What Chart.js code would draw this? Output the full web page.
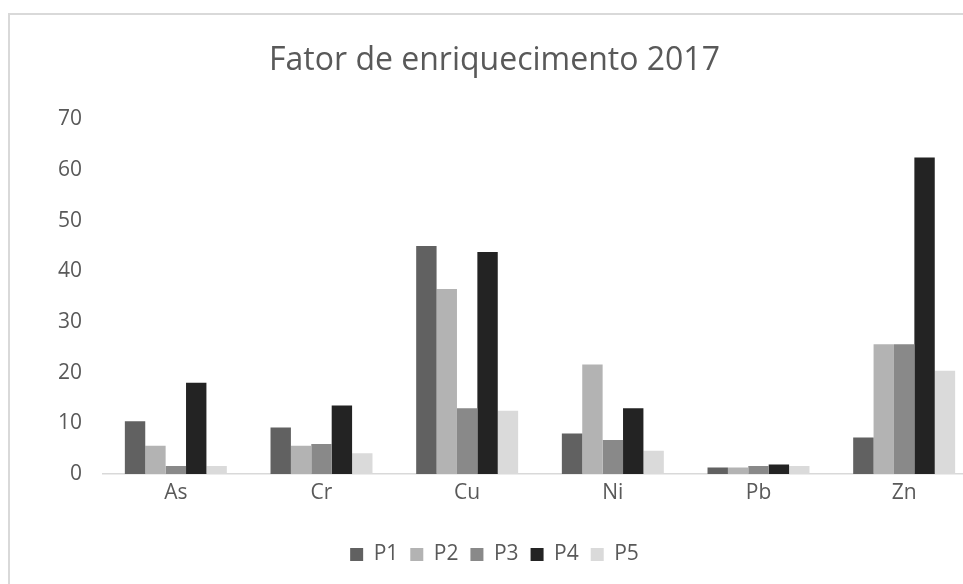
<!DOCTYPE html>
<html>
<head>
<meta charset="utf-8">
<script src="https://cdn.jsdelivr.net/npm/chart.js@4"></script>
<style>
  html, body { margin: 0; padding: 0; background: #fff; overflow: hidden; }
  #box { position: absolute; left: 8px; top: 13px; width: 980px; height: 600px;
         border: 2px solid #d9d9d9; box-sizing: border-box; }
  #wrap { position: absolute; left: 2px; top: 2px; width: 972px; height: 558px; }
</style>
</head>
<body>
<div id="box"><div id="wrap"><canvas id="chart"></canvas></div></div>
<script>
// Fator de enriquecimento 2017
const categories = ['As', 'Cr', 'Cu', 'Ni', 'Pb', 'Zn'];
const seriesNames = ['P1', 'P2', 'P3', 'P4', 'P5'];
const p1 = [10.4, 9.2, 45.0, 8.0, 1.3, 7.2];
const p2 = [5.6, 5.6, 36.5, 21.6, 1.3, 25.6];
const p3 = [1.6, 5.9, 13.0, 6.7, 1.6, 25.6];
const p4 = [18.0, 13.5, 43.8, 13.0, 1.9, 62.5];
const p5 = [1.6, 4.1, 12.5, 4.6, 1.6, 20.4];
const yTicks = [0, 10, 20, 30, 40, 50, 60, 70];

const colors = ['#616161', '#b3b3b3', '#898989', '#232323', '#dadada'];
const values = [p1, p2, p3, p4, p5];
const textColor = '#595959';
const fontFamily = '"Open Sans", sans-serif';

const ctx = document.getElementById('chart').getContext('2d');
new Chart(ctx, {
    type: 'bar',
    data: {
        labels: categories,
        datasets: seriesNames.map((name, i) => ({
            label: name,
            data: values[i],
            backgroundColor: colors[i],
            borderWidth: 0,
            barPercentage: 1,
            categoryPercentage: 0.70
        }))
    },
    options: {
        responsive: true,
        maintainAspectRatio: false,
        animation: false,
        layout: { padding: { left: 0, right: 7, top: 0, bottom: 0 } },
        plugins: {
            title: {
                display: true,
                text: 'Fator de enriquecimento 2017',
                color: textColor,
                font: { family: fontFamily, size: 32, weight: 'normal' },
                padding: { top: 25, bottom: 39 }
            },
            legend: {
                position: 'bottom',
                labels: {
                    color: textColor,
                    font: { family: fontFamily, size: 21 },
                    boxWidth: 13,
                    boxHeight: 13,
                    padding: 12
                }
            },
            tooltip: { enabled: false }
        },
        scales: {
            x: {
                grid: { display: false, drawTicks: false },
                border: { display: true, color: '#d9d9d9', width: 1.5 },
                ticks: {
                    color: textColor,
                    font: { family: fontFamily, size: 21 },
                    padding: 6
                },
                afterFit: (scale) => { scale.height = 58; }
            },
            y: {
                min: 0,
                max: 70,
                grid: { display: false, drawTicks: false },
                border: { display: false },
                afterBuildTicks: (scale) => { scale.ticks = yTicks.map(v => ({ value: v })); },
                ticks: {
                    color: textColor,
                    font: { family: fontFamily, size: 21 },
                    padding: 21
                },
                afterFit: (scale) => { scale.width = 91; }
            }
        }
    }
});
</script>
</body>
</html>
